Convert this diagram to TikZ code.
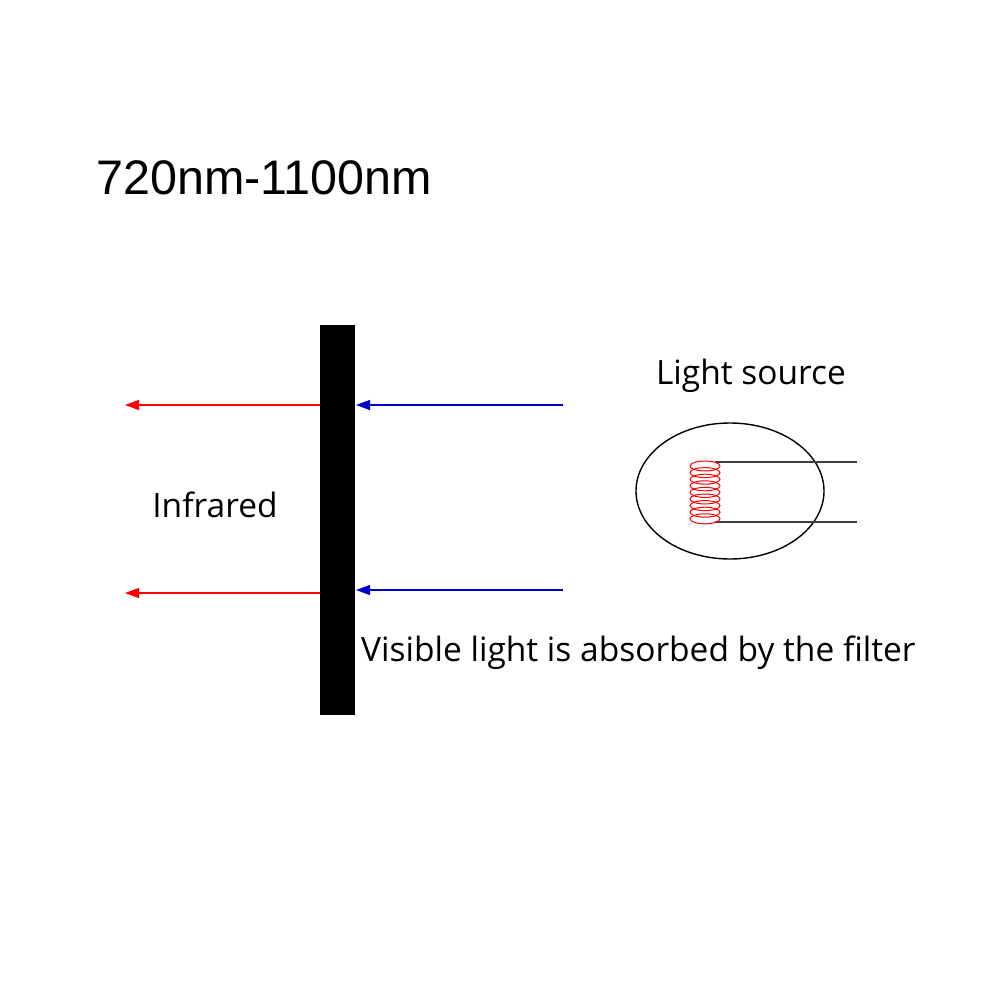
\documentclass[tikz,border=0pt]{standalone}
\usepackage{fontspec}
\setmainfont{Liberation Sans}
\newfontfamily\lbl{Open Sans}
\usetikzlibrary{arrows.meta}
\begin{document}
\begin{tikzpicture}[x=1pt,y=-1pt,
  ir/.style={red,line width=1.3pt,-{Triangle[length=14pt,width=10pt]}},
  vis/.style={blue!80!black,line width=1.3pt,-{Triangle[length=14pt,width=10pt]}},
  lab/.style={font=\lbl\fontsize{33.5}{38}\selectfont,inner sep=0}]
\useasboundingbox (0,0) rectangle (1000,1000);
\fill[white] (0,0) rectangle (1000,1000);
\node[anchor=west,inner sep=0,font=\fontsize{48.5}{54}\selectfont] (title) at (96,178) {720nm-1100nm};
\fill[black] (320,325) rectangle (355,715);
\coordinate (f1) at (320,405); \coordinate (f2) at (320,593);
\coordinate (g1) at (356,405); \coordinate (g2) at (356,590);
\coordinate (e1) at (125,405); \coordinate (e2) at (125,593);
\coordinate (s1) at (563,405); \coordinate (s2) at (563,590);
\draw[ir] (f1) -- (e1); \draw[ir] (f2) -- (e2);
\draw[vis] (s1) -- (g1); \draw[vis] (s2) -- (g2);
\node[lab] (ls) at (751,376) {Light source};
\node[lab] (inf) at (215,505) {Infrared};
\node[lab,anchor=west] (vl) at (361,653) {Visible light is absorbed by the filter};
\draw[line width=1.4pt] (730,491) ellipse (94 and 68);
\draw[line width=1.4pt,black!75] (715,462) -- (857,462) (715,522) -- (857,522);
\foreach \i in {0,...,8} \draw[red,line width=1pt] (705,466+\i*6.6) ellipse (15 and 5);
\end{tikzpicture}
\end{document}
